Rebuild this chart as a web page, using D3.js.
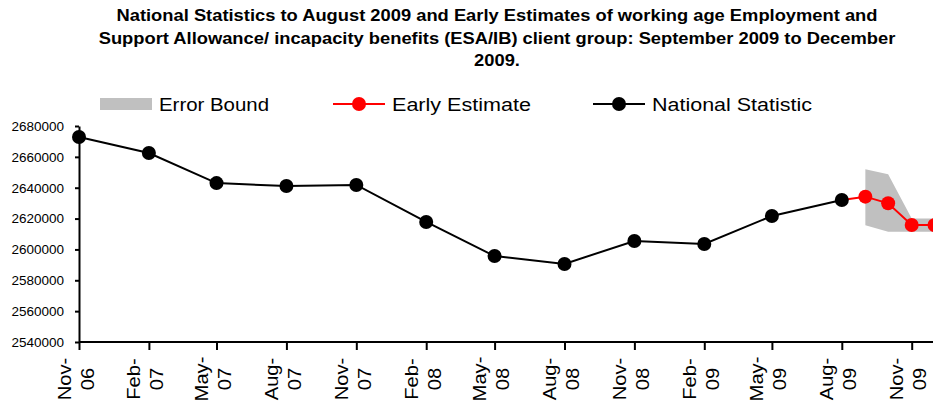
<!DOCTYPE html>
<html><head><meta charset="utf-8">
<script src="https://cdn.jsdelivr.net/npm/d3@7"></script>
<style>body{margin:0;background:#fff;} svg{display:block;font-family:"Liberation Sans",Arial,sans-serif;}</style>
</head><body>
<svg id="c" width="933" height="406"></svg>
<script>
const titleLines = ["National Statistics to August 2009 and Early Estimates of working age Employment and",
  "Support Allowance/ incapacity benefits (ESA/IB) client group: September 2009 to December",
  "2009."];
const nsDates = ["2006-11","2007-02","2007-05","2007-08","2007-11","2008-02","2008-05","2008-08","2008-11","2009-02","2009-05","2009-08"];
const nsValues = [2672900,2662500,2643000,2641100,2641800,2617800,2595700,2590600,2605500,2603500,2621700,2632000];
const eeDates = ["2009-08","2009-09","2009-10","2009-11","2009-12"];
const eeValues = [2632000,2634200,2629900,2615800,2615800];
const ebDates = ["2009-09","2009-10","2009-11","2009-12"];
const ebUpper = [2651900,2648700,2620000,2620000];
const ebLower = [2615600,2611400,2611400,2611400];
const yTicks = [2540000,2560000,2580000,2600000,2620000,2640000,2660000,2680000];
const xTickDates = ["2006-11","2007-02","2007-05","2007-08","2007-11","2008-02","2008-05","2008-08","2008-11","2009-02","2009-05","2009-08","2009-11"];
const legendLabels = ["Error Bound","Early Estimate","National Statistic"];

const parse = d3.timeParse("%Y-%m");
const fmtMon = d3.timeFormat("%b-");
const fmtYr = d3.timeFormat("%y");
const svg = d3.select("#c");
const FONT = "'Liberation Sans',Arial,sans-serif";

function stretch(sel, f){
  sel.each(function(){
    const w = this.getComputedTextLength();
    d3.select(this).attr("textLength", w*f).attr("lengthAdjust","spacingAndGlyphs");
  });
}

const x = d3.scaleTime().domain([parse("2006-11"), parse("2009-11")]).range([79, 911.7]);
const y = d3.scaleLinear().domain([2540000, 2680000]).range([342, 126]);

// title
const tt = svg.append("g").selectAll("text").data(titleLines).join("text")
  .attr("x", 497).attr("y", (d,i)=>21 + i*22.5)
  .attr("text-anchor","middle").attr("font-weight","bold").attr("font-size","16.5px")
  .attr("fill","#000").text(d=>d);
const tf = 761 / tt.nodes()[0].getComputedTextLength();
stretch(tt, tf);

// error bound area
const eb = ebDates.map((d,i)=>({d:parse(d), u:ebUpper[i], l:ebLower[i]}));
svg.append("path").datum(eb)
  .attr("d", d3.area().x(d=>x(d.d)).y0(d=>y(d.l)).y1(d=>y(d.u)))
  .attr("fill","#c0c0c0");

// axes
const gy = svg.append("g").attr("transform","translate(79,0)")
  .call(d3.axisLeft(y).tickValues(yTicks).tickSize(4).tickSizeOuter(0).tickFormat(d3.format("d")));
gy.select(".domain").attr("stroke","#000").attr("stroke-width",2);
gy.selectAll(".tick line").attr("stroke","#000").attr("stroke-width",2);
gy.selectAll(".tick text").attr("font-size","13.5px").attr("fill","#000")
  .attr("font-family",FONT).attr("x",-15);

const gx = svg.append("g").attr("transform","translate(0,342)")
  .call(d3.axisBottom(x).tickValues(xTickDates.map(parse)).tickSize(8).tickSizeOuter(0).tickFormat(""));
gx.select(".domain").attr("stroke","#000").attr("stroke-width",2).attr("d","M79,0H933");
gx.selectAll(".tick line").attr("stroke","#000").attr("stroke-width",2);
gx.selectAll(".tick").each(function(d){
  const t = d3.select(this).append("text")
    .attr("transform","translate(0,37) rotate(-90)")
    .attr("text-anchor","middle").attr("fill","#000")
    .attr("font-size","18px").attr("font-family",FONT);
  t.append("tspan").attr("x",0).attr("y",-9).text(fmtMon(d));
  t.append("tspan").attr("x",0).attr("y",14).text(fmtYr(d));
  stretch(t.selectAll("tspan"), 1.12);
});

// lines
const ns = nsDates.map((d,i)=>({d:parse(d), v:nsValues[i]}));
const ee = eeDates.map((d,i)=>({d:parse(d), v:eeValues[i]}));
const line = d3.line().x(d=>x(d.d)).y(d=>y(d.v));
svg.append("path").datum(ns).attr("d",line).attr("fill","none").attr("stroke","#000").attr("stroke-width",2);
svg.append("path").datum(ee).attr("d",line).attr("fill","none").attr("stroke","#ff0000").attr("stroke-width",2);
svg.append("g").selectAll("circle").data(ee.slice(1)).join("circle")
  .attr("cx",d=>x(d.d)).attr("cy",d=>y(d.v)).attr("r",7).attr("fill","#ff0000");
svg.append("g").selectAll("circle").data(ns).join("circle")
  .attr("cx",d=>x(d.d)).attr("cy",d=>y(d.v)).attr("r",7).attr("fill","#000");

// legend
const legendWidths = [110, 139, 160];
const lg = svg.append("g").attr("font-size","17.5px").attr("fill","#000");
lg.append("rect").attr("x",100).attr("y",98).attr("width",52).attr("height",12).attr("fill","#c0c0c0");
lg.append("text").attr("x",159).attr("y",111).text(legendLabels[0]);
lg.append("line").attr("x1",333).attr("x2",385).attr("y1",104).attr("y2",104).attr("stroke","#ff0000").attr("stroke-width",2);
lg.append("circle").attr("cx",359).attr("cy",104).attr("r",7).attr("fill","#ff0000");
lg.append("text").attr("x",392).attr("y",111).text(legendLabels[1]);
lg.append("line").attr("x1",593).attr("x2",645).attr("y1",104).attr("y2",104).attr("stroke","#000").attr("stroke-width",2);
lg.append("circle").attr("cx",619).attr("cy",104).attr("r",7).attr("fill","#000");
lg.append("text").attr("x",652).attr("y",111).text(legendLabels[2]);
lg.selectAll("text").attr("textLength",(d,i)=>legendWidths[i]).attr("lengthAdjust","spacingAndGlyphs");
</script>
</body></html>
